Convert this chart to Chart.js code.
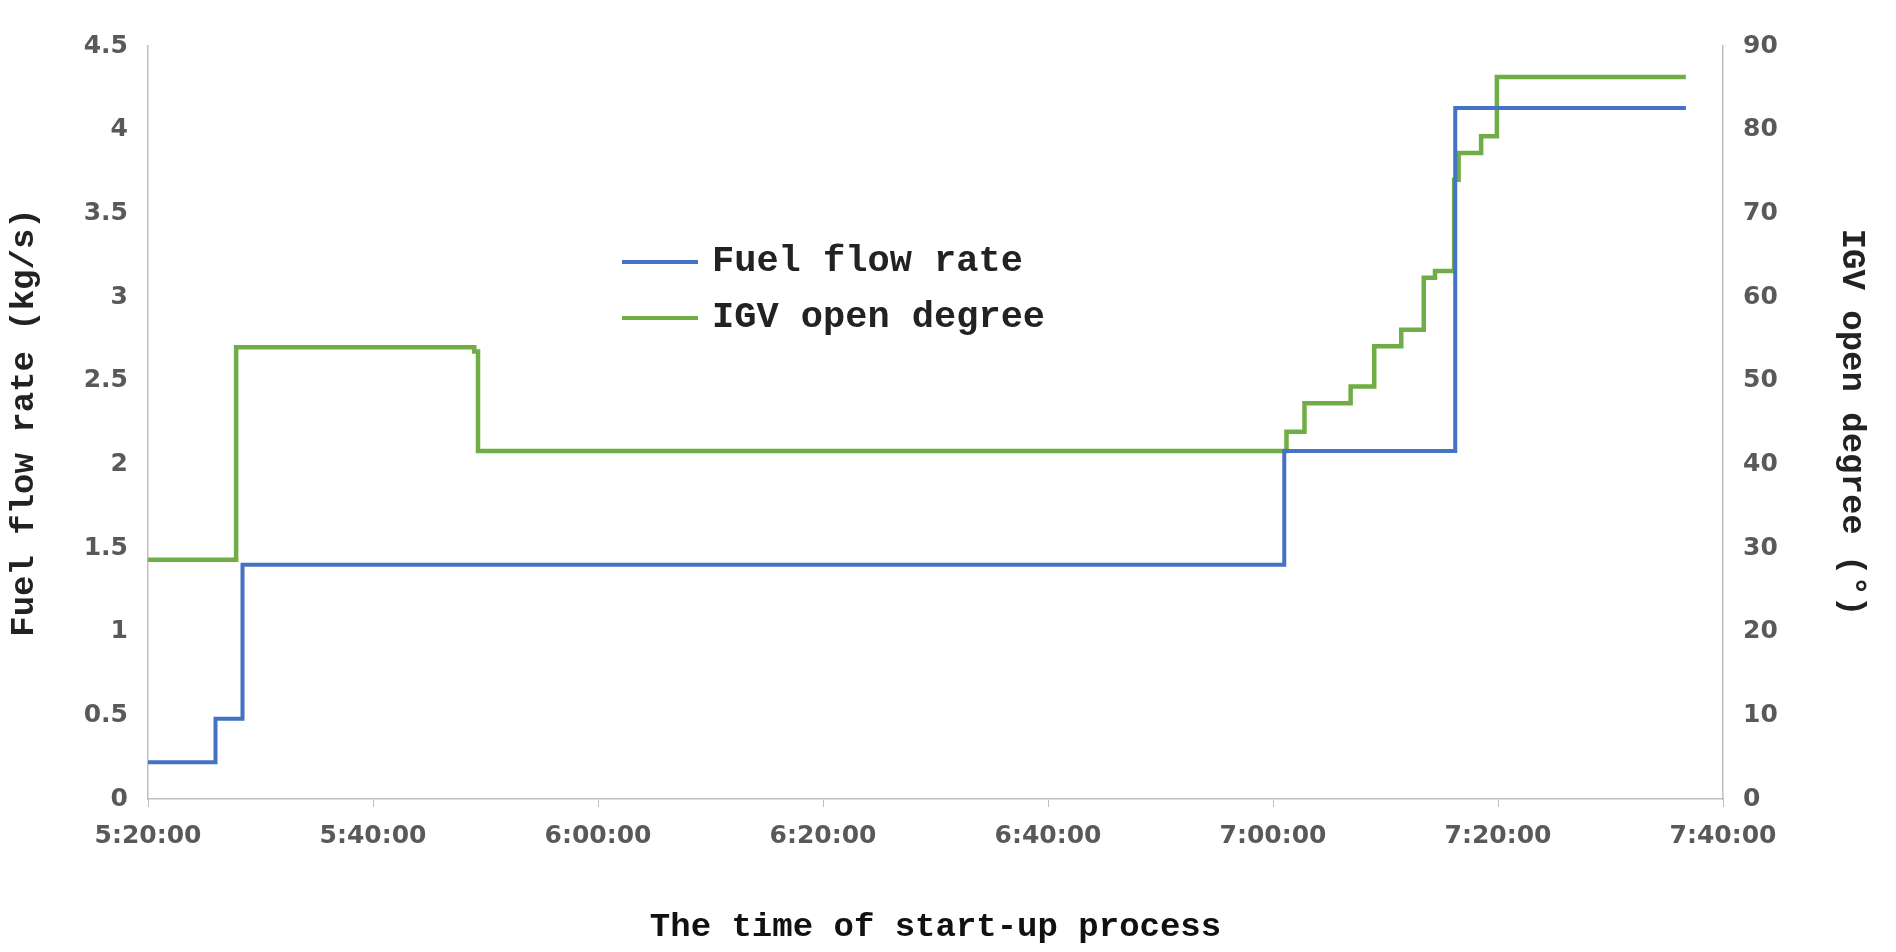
<!DOCTYPE html>
<html><head><meta charset="utf-8">
<script src="https://cdn.jsdelivr.net/npm/chart.js@4/dist/chart.umd.min.js"></script>
<style>html,body{margin:0;padding:0;background:#fff}</style>
</head><body>
<canvas id="c" width="1896" height="952"></canvas>
<script>
// time in seconds after 5:20:00
const fuelTimes = [0, 360, 504, 6060, 6972, 8202];
const fuelValues = [0.22, 0.48, 1.40, 2.08, 4.13, 4.13];
const igvTimes = [0, 470, 1740, 1760, 6072, 6168, 6414, 6540, 6684, 6804, 6864, 6966, 6990, 7110, 7194, 8202];
const igvValues = [28.6, 54.0, 53.5, 41.6, 43.9, 47.3, 49.3, 54.1, 56.1, 62.3, 63.1, 74.0, 77.2, 79.2, 86.3, 86.3];
const xTicks = ['5:20:00','5:40:00','6:00:00','6:20:00','6:40:00','7:00:00','7:20:00','7:40:00'];
const labels = ['Fuel flow rate','IGV open degree'];
const colors = ['#4472C4','#70AD47'];

const tickFont = {family:'DejaVu Sans', size:25, weight:'bold'};
const titleFont = {family:'Liberation Mono', size:34, weight:'bold'};

const legendPlugin = {
  id:'inLegend',
  afterDraw(chart){
    const ctx = chart.ctx;
    ctx.save();
    ctx.font = 'bold 37px "Liberation Mono"';
    ctx.fillStyle = '#222';
    ctx.textBaseline = 'middle';
    chart.data.datasets.forEach((ds,i)=>{
      const y = 262 + i*56;
      ctx.strokeStyle = ds.borderColor; ctx.lineWidth = 4;
      ctx.beginPath(); ctx.moveTo(622,y); ctx.lineTo(698,y); ctx.stroke();
      ctx.fillText(ds.label, 712, y);
    });
    ctx.restore();
  }
};

new Chart(document.getElementById('c'), {
  type:'line',
  data:{datasets:[
    {label:labels[0], data:fuelTimes.map((t,i)=>({x:t,y:fuelValues[i]})), borderColor:colors[0], borderWidth:4, stepped:true, pointRadius:0, yAxisID:'y'},
    {label:labels[1], data:igvTimes.map((t,i)=>({x:t,y:igvValues[i]})), borderColor:colors[1], borderWidth:4.5, stepped:true, pointRadius:0, yAxisID:'y1'}
  ]},
  options:{
    responsive:false, animation:false,
    layout:{padding:{top:46,left:0,right:0,bottom:0}},
    plugins:{legend:{display:false}, tooltip:{enabled:false}},
    scales:{
      x:{type:'linear', min:0, max:8400,
        ticks:{stepSize:1200, color:'#595959', font:tickFont, padding:14, maxRotation:0,
          callback:(v)=>xTicks[Math.round(v/1200)]},
        grid:{drawOnChartArea:false, color:'#bfbfbf', tickLength:8},
        border:{color:'#bfbfbf', width:1.5},
        title:{display:true, text:'The time of start-up process', color:'#111', font:titleFont, padding:{top:12}},
        afterFit(s){s.height=153;}
      },
      y:{position:'left', min:0, max:4.5,
        ticks:{stepSize:0.5, color:'#595959', font:tickFont, padding:12, callback:(v)=>String(v)},
        grid:{display:false}, border:{color:'#bfbfbf', width:1.5},
        title:{display:true, text:'Fuel flow rate (kg/s)', color:'#222', font:titleFont, padding:{bottom:6}},
        afterFit(s){s.width=148;}
      },
      y1:{position:'right', min:0, max:90,
        ticks:{stepSize:10, color:'#595959', font:tickFont, padding:12},
        grid:{display:false}, border:{color:'#bfbfbf', width:1.5},
        title:{display:true, text:'IGV open degree (°)', color:'#222', font:titleFont, padding:{top:24}},
        afterFit(s){s.width=173;}
      }
    }
  },
  plugins:[legendPlugin]
});
</script>
</body></html>
